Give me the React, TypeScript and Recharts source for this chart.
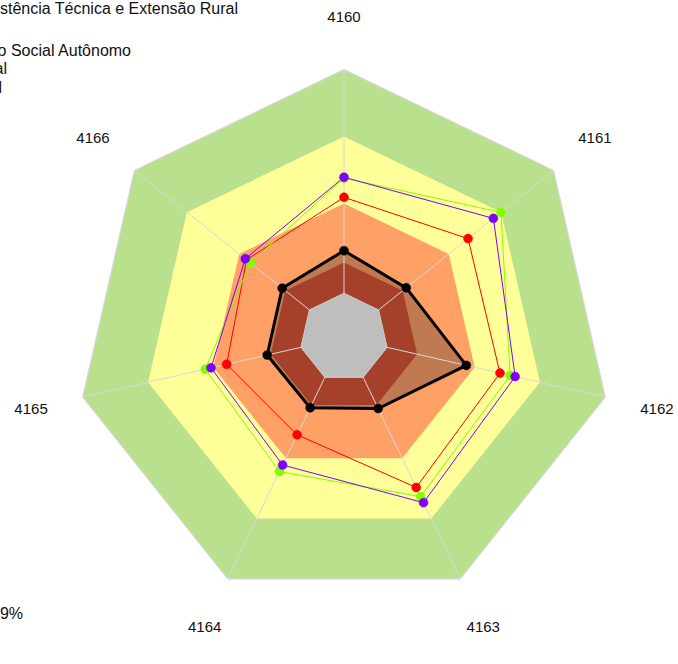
import React from 'react';
import { RadarChart, Radar, PolarGrid, PolarAngleAxis, PolarRadiusAxis } from 'recharts';

const categories = ['4160', '4161', '4162', '4163', '4164', '4165', '4166'];
const seriesBlack = [32.4, 29.7, 46.8, 29.4, 29.1, 29.4, 29.5];
const seriesRed = [52.3, 59.2, 59.7, 62.1, 40.3, 44.9, 46.5];
const seriesGreen = [59.5, 74.9, 63.6, 65.9, 55.5, 53.1, 44.7];
const seriesPurple = [59.8, 71.3, 65.5, 68.4, 52.8, 50.9, 47.1];
const bandLevels = [100, 75, 50, 28, 16.5];

const legendLines = [
  'Assistência Técnica e Extensão Rural',
  'Serviço Social Autônomo',
  'Estadual',
  'Municipal',
];
const footNote = 'Cobertura: 49%';

const W = 678;
const H = 664;
const CX = 344;
const CY = 337.5;
const R = 268;
const LABEL_R = 321;

const data = categories.map((c, i) => ({
  cat: c,
  b0: bandLevels[0],
  b1: bandLevels[1],
  b2: bandLevels[2],
  b3: bandLevels[3],
  b4: bandLevels[4],
  black: seriesBlack[i],
  red: seriesRed[i],
  green: seriesGreen[i],
  purple: seriesPurple[i],
}));

const AngleTick = (props: any) => {
  const { index, payload } = props;
  const n = categories.length;
  const a = (Math.PI / 2) - (index * 2 * Math.PI) / n;
  const x = CX + LABEL_R * Math.cos(a);
  const y = CY - LABEL_R * Math.sin(a);
  return (
    <text x={x} y={y} textAnchor="middle" dominantBaseline="central" fontSize={15}
      fontFamily="'Liberation Sans', Arial, sans-serif" fill="#111">
      {payload.value}
    </text>
  );
};

const textStyle: React.CSSProperties = {
  position: 'absolute',
  whiteSpace: 'nowrap',
  fontFamily: "'Liberation Sans', Arial, sans-serif",
  fontSize: 16,
  lineHeight: '18px',
  color: '#111',
  textAlign: 'right',
};

const layer: React.CSSProperties = { position: 'absolute', left: 0, top: 0 };

const chartProps = {
  width: W,
  height: H,
  data,
  cx: CX,
  cy: CY,
  outerRadius: R,
  margin: { top: 0, right: 0, bottom: 0, left: 0 },
};

export default function App() {
  const bandColors = ['#B9E08C', '#FFFF99', '#FFA066', '#A5402A', '#BEBEBE'];
  return (
    <div style={{ position: 'absolute', left: 0, top: 0, width: W, height: H, overflow: 'hidden', background: '#fff' }}>
      <div style={layer}>
        <RadarChart {...chartProps}>
          <PolarRadiusAxis domain={[0, 100]} tick={false} axisLine={false} />
          <PolarAngleAxis dataKey="cat" tick={false} tickLine={false} axisLine={false} />
          <Radar dataKey="b0" fill={bandColors[0]} fillOpacity={1} stroke="#DADADA" strokeWidth={1} isAnimationActive={false} dot={false} />
          <Radar dataKey="b1" fill={bandColors[1]} fillOpacity={1} stroke="none" isAnimationActive={false} dot={false} />
          <Radar dataKey="b2" fill={bandColors[2]} fillOpacity={1} stroke="none" isAnimationActive={false} dot={false} />
          <Radar dataKey="black" fill="#BF7A52" fillOpacity={1} stroke="none" isAnimationActive={false} dot={false} />
          <Radar dataKey="b3" fill={bandColors[3]} fillOpacity={1} stroke="none" isAnimationActive={false} dot={false} />
        </RadarChart>
      </div>
      <div style={layer}>
        <RadarChart {...chartProps}>
          <PolarRadiusAxis domain={[0, 100]} tick={false} axisLine={false} />
          <PolarAngleAxis dataKey="cat" tick={false} tickLine={false} axisLine={false} />
          <PolarGrid gridType="polygon" polarRadius={[R]} stroke="#D8D8D8" strokeWidth={1} />
          <Radar dataKey="b4" fill={bandColors[4]} fillOpacity={1} stroke="#D0D0D0" strokeWidth={1} isAnimationActive={false} dot={false} />
        </RadarChart>
      </div>
      <div style={layer}>
        <RadarChart {...chartProps}>
          <PolarRadiusAxis domain={[0, 100]} tick={false} axisLine={false} />
          <PolarAngleAxis dataKey="cat" tick={AngleTick} tickLine={false} axisLine={false} />
          <Radar dataKey="red" fill="none" fillOpacity={0} stroke="#FF0000" strokeWidth={1}
            dot={{ r: 4.5, fill: '#FF0000', stroke: '#FF0000', strokeWidth: 0.5, fillOpacity: 1 }} isAnimationActive={false} />
          <Radar dataKey="green" fill="none" fillOpacity={0} stroke="#80FF00" strokeWidth={1}
            dot={{ r: 4.5, fill: '#80FF00', stroke: '#80FF00', strokeWidth: 0.5, fillOpacity: 1 }} isAnimationActive={false} />
          <Radar dataKey="purple" fill="none" fillOpacity={0} stroke="#8000FF" strokeWidth={1}
            dot={{ r: 4.5, fill: '#8000FF', stroke: '#8000FF', strokeWidth: 0.5, fillOpacity: 1 }} isAnimationActive={false} />
          <Radar dataKey="black" fill="none" fillOpacity={0} stroke="#000000" strokeWidth={3}
            dot={{ r: 4.5, fill: '#000000', stroke: '#000000', strokeWidth: 0.5, fillOpacity: 1 }} isAnimationActive={false} />
        </RadarChart>
      </div>
      <div style={{ ...textStyle, right: W - 238, top: 0 }}>{legendLines[0]}</div>
      <div style={{ ...textStyle, right: W - 131, top: 42 }}>{legendLines[1]}</div>
      <div style={{ ...textStyle, right: W - 7, top: 60 }}>{legendLines[2]}</div>
      <div style={{ ...textStyle, right: W - 2, top: 79 }}>{legendLines[3]}</div>
      <div style={{ ...textStyle, right: W - 23, top: 605 }}>{footNote}</div>
    </div>
  );
}
